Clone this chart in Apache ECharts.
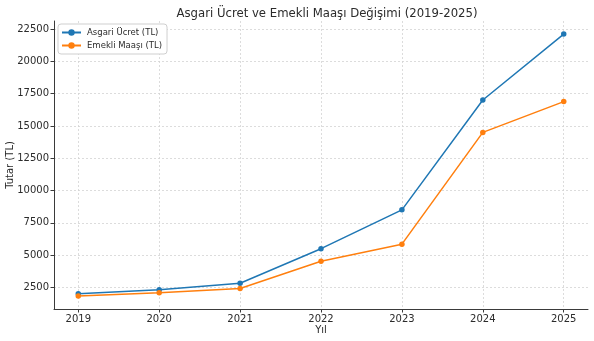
<!DOCTYPE html>
<html>
<head>
<meta charset="utf-8">
<script src="https://cdn.jsdelivr.net/npm/echarts@6/dist/echarts.min.js"></script>
<style>
  html, body { margin: 0; padding: 0; background: #fff; }
  #chart { width: 594px; height: 341px; }
</style>
</head>
<body>
<div id="chart"></div>
<script>
// Yearly amounts in TL
const years = [2019, 2020, 2021, 2022, 2023, 2024, 2025];
const asgariUcret = [2020.9, 2324.71, 2825.9, 5500.35, 8506.8, 17002.12, 22104.67];
const emekliMaasi = [1847, 2100, 2420, 4530, 5850, 14500, 16881];
const yTicks = [2500, 5000, 7500, 10000, 12500, 15000, 17500, 20000, 22500];

const FONT = 'DejaVu Sans';
const TEXT = '#2b2b2b';

// 5% padding around the data range on both axes
const allVals = asgariUcret.concat(emekliMaasi);
const vMin = Math.min(...allVals), vMax = Math.max(...allVals);
const vPad = (vMax - vMin) * 0.05;
const xPad = (years[years.length - 1] - years[0]) * 0.05;

const chart = echarts.init(document.getElementById('chart'), null, { renderer: 'canvas' });

const gridLine = { show: true, lineStyle: { color: '#d4d4d4', type: [2, 2], width: 0.8 } };

chart.setOption({
  animation: false,
  backgroundColor: '#fff',
  title: {
    text: 'Asgari Ücret ve Emekli Maaşı Değişimi (2019-2025)',
    left: 322, top: 3, textAlign: 'center',
    textStyle: { fontFamily: FONT, fontSize: 11.7, fontWeight: 'normal', color: TEXT }
  },
  legend: {
    orient: 'vertical', left: 58, top: 24,
    backgroundColor: '#fff', borderColor: '#cfcfcf', borderWidth: 1, borderRadius: 3,
    padding: [4, 5, 4, 3], itemGap: 4, itemWidth: 19, itemHeight: 8,
    textStyle: { fontFamily: FONT, fontSize: 8.5, color: TEXT, padding: [0, 0, 0, 1] },
    data: ['Asgari Ücret (TL)', 'Emekli Maaşı (TL)']
  },
  grid: { left: 54, right: 6, top: 21, bottom: 32, containLabel: false, outerBoundsMode: 'none' },
  xAxis: {
    type: 'value',
    min: years[0] - xPad, max: years[years.length - 1] + xPad,
    name: 'Yıl', nameLocation: 'middle', nameGap: 16, nameMoveOverlap: false,
    nameTextStyle: { fontFamily: FONT, fontSize: 10, color: TEXT },
    axisLine: { lineStyle: { color: '#3a3a3a', width: 1 } },
    axisTick: { show: true, length: 3.5, lineStyle: { color: '#3a3a3a' }, customValues: years },
    axisLabel: { fontFamily: FONT, fontSize: 10, color: TEXT, margin: 5, customValues: years, formatter: v => String(v) },
    splitLine: gridLine
  },
  yAxis: {
    type: 'value',
    min: vMin - vPad, max: vMax + vPad,
    name: 'Tutar (TL)', nameLocation: 'middle', nameGap: 39, nameRotate: 90, nameMoveOverlap: false,
    nameTextStyle: { fontFamily: FONT, fontSize: 10, color: TEXT },
    axisLine: { show: true, lineStyle: { color: '#3a3a3a', width: 1 } },
    axisTick: { show: true, length: 3.5, lineStyle: { color: '#3a3a3a' }, customValues: yTicks },
    axisLabel: { fontFamily: FONT, fontSize: 10, color: TEXT, margin: 5, customValues: yTicks, formatter: v => String(v) },
    splitLine: gridLine
  },
  series: [
    {
      name: 'Asgari Ücret (TL)', type: 'line',
      data: years.map((y, i) => [y, asgariUcret[i]]),
      symbol: 'circle', symbolSize: 5.5,
      lineStyle: { color: '#1f77b4', width: 1.5 },
      itemStyle: { color: '#1f77b4' }
    },
    {
      name: 'Emekli Maaşı (TL)', type: 'line',
      data: years.map((y, i) => [y, emekliMaasi[i]]),
      symbol: 'circle', symbolSize: 5.5,
      lineStyle: { color: '#ff7f0e', width: 1.5 },
      itemStyle: { color: '#ff7f0e' }
    }
  ]
});
</script>
</body>
</html>
